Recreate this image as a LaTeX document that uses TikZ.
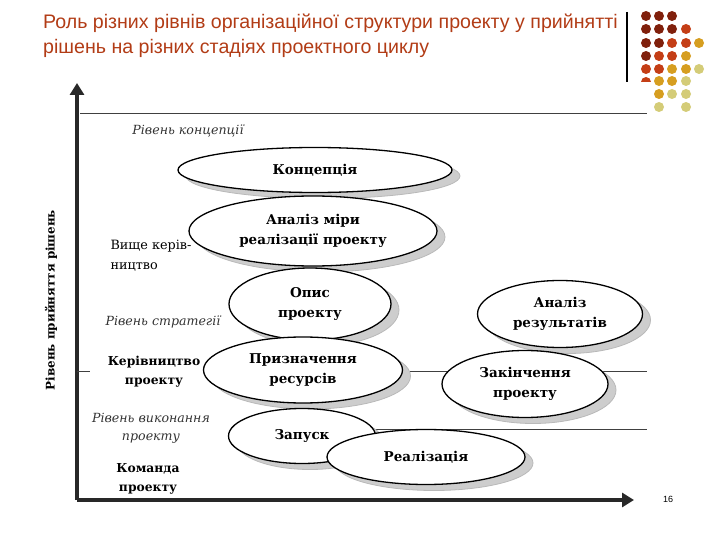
\documentclass[tikz,border=0pt]{standalone}
\usepackage{fontspec}
\setmainfont{DejaVu Serif}
\newfontfamily\titlefont{Liberation Sans}
\usetikzlibrary{shapes.geometric,shadows,arrows.meta}
\definecolor{titlered}{RGB}{178,60,22}
\definecolor{dk}{RGB}{128,32,12}
\definecolor{rd}{RGB}{196,62,22}
\definecolor{gd}{RGB}{214,158,32}
\definecolor{pl}{RGB}{212,204,120}
\definecolor{axisgray}{RGB}{40,40,40}
\definecolor{shadowgray}{RGB}{205,205,205}
\begin{document}
\begin{tikzpicture}[x=1pt,y=-1pt,
  ell/.style={ellipse, draw=black, line width=1.3pt, fill=white, inner sep=0pt, align=center,
    font=\fontsize{13.5}{20}\selectfont\bfseries,
    drop shadow={shadow xshift=8pt, shadow yshift=-6pt, fill=shadowgray, draw=gray!55, line width=0.8pt, opacity=1}},
  axisline/.style={draw=axisgray, line width=3.5pt, -{Triangle[length=12pt,width=14pt]}},
  levelline/.style={draw=black!75, line width=1pt},
  lvltext/.style={font=\fontsize{12.6}{18}\selectfont\itshape, text=black!80, align=center},
  roletext/.style={font=\fontsize{12.3}{19}\selectfont\bfseries, align=center},
  plaintext/.style={font=\fontsize{12.8}{20}\selectfont, align=left},
  dot/.style={radius=5pt}
]
\useasboundingbox (0,0) rectangle (720,540);

% title
\node[anchor=base west, text=titlered, font=\titlefont\fontsize{19.6}{22}\selectfont, inner sep=0pt] (t1) at (43,29)
  {Роль різних рівнів організаційної структури проекту у прийнятті};
\node[anchor=base west, text=titlered, font=\titlefont\fontsize{19.6}{22}\selectfont, inner sep=0pt] (t2) at (43,54)
  {рішень на різних стадіях проектного циклу};

% decoration
\draw[line width=1.2pt] (627,12) -- (627,82);
\fill[dk] (646,16) circle[dot]; \fill[dk] (659,16) circle[dot]; \fill[dk] (672,16) circle[dot];
\fill[dk] (646,29) circle[dot]; \fill[dk] (659,29) circle[dot]; \fill[dk] (672,29) circle[dot]; \fill[rd] (686,29) circle[dot];
\fill[dk] (646,43) circle[dot]; \fill[dk] (659,43) circle[dot]; \fill[rd] (672,43) circle[dot]; \fill[rd] (686,43) circle[dot]; \fill[gd] (699,43) circle[dot];
\fill[dk] (646,56) circle[dot]; \fill[rd] (659,56) circle[dot]; \fill[rd] (672,56) circle[dot]; \fill[gd] (686,56) circle[dot];
\fill[rd] (646,69) circle[dot]; \fill[rd] (659,69) circle[dot]; \fill[gd] (672,69) circle[dot]; \fill[gd] (686,69) circle[dot]; \fill[pl] (699,69) circle[dot];
\fill[rd] (651,82) arc[start angle=0,end angle=180,radius=5pt] -- cycle;
\fill[gd] (659,81) circle[dot]; \fill[gd] (672,81) circle[dot]; \fill[pl] (686,81) circle[dot];
\fill[gd] (659,94) circle[dot]; \fill[pl] (672,94) circle[dot]; \fill[pl] (686,94) circle[dot];
\fill[pl] (659,107) circle[dot]; \fill[pl] (686,107) circle[dot];

% axes
\coordinate (o) at (77,500);
\coordinate (ytip) at (77,83);
\coordinate (xtip) at (634,500);
\draw[axisline] (o) -- (ytip);
\draw[axisline] (o) -- (xtip);

% level lines
\coordinate (l1a) at (80,114);  \coordinate (l1b) at (647,114);
\coordinate (l2a) at (77,371);  \coordinate (l2b) at (90,371);
\coordinate (l2c) at (402,371); \coordinate (l2d) at (647,371);
\coordinate (l3a) at (375,429); \coordinate (l3b) at (647,429);
\draw[levelline] (l1a) -- (l1b);
\draw[levelline] (l2a) -- (l2b);
\draw[levelline] (l2c) -- (l2d);
\draw[levelline] (l3a) -- (l3b);

% axis label
\node[rotate=90, font=\fontsize{11.9}{14}\selectfont\bfseries] (ylab) at (51,300) {Рівень прийняття рішень};

% left labels
\node[lvltext] (lv1) at (188,131) {Рівень концепції};
\node[plaintext, anchor=west] (vk) at (107,256) {Вище керів-\\ництво};
\node[lvltext] (lv2) at (163,322) {Рівень стратегії};
\node[roletext] (kp) at (154,372) {Керівництво\\проекту};
\node[lvltext] (lv3) at (151,428) {Рівень виконання\\проекту};
\node[roletext] (kmd) at (148,479) {Команда\\проекту};

% ellipses (in drawing order)
\node[ell, minimum width=274pt, minimum height=45pt] (conc) at (315,170) {Концепція};
\node[ell, minimum width=248pt, minimum height=70pt] (anal) at (313,231) {Аналіз міри\\реалізації проекту};
\node[ell, minimum width=162pt, minimum height=72pt] (opys) at (310,304) {Опис\\проекту};
\node[ell, minimum width=165pt, minimum height=67pt] (ares) at (560,314) {Аналіз\\результатів};
\node[ell, minimum width=199pt, minimum height=66pt] (pryz) at (303,370) {Призначення\\ресурсів};
\node[ell, minimum width=166pt, minimum height=67pt] (zak) at (525,384) {Закінчення\\проекту};
\node[ell, minimum width=147pt, minimum height=55pt] (zap) at (302,436) {Запуск};
\node[ell, minimum width=198pt, minimum height=55pt] (real) at (426,457) {Реалізація};

% page number
\node[font=\titlefont\fontsize{9}{9}\selectfont] (pg) at (668,499) {16};
\end{tikzpicture}
\end{document}
